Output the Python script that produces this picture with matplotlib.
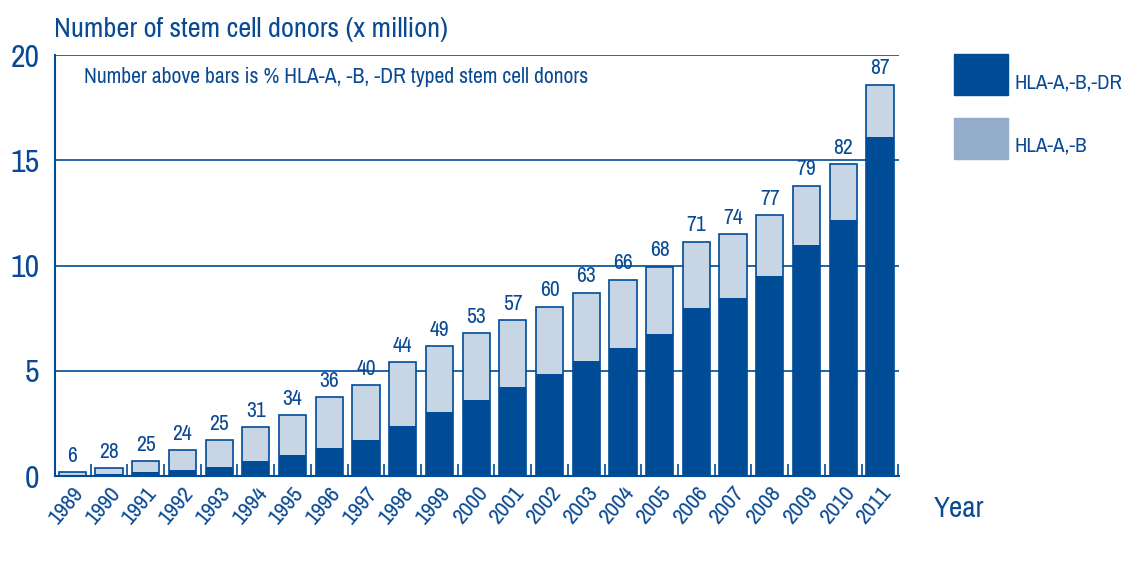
import matplotlib
matplotlib.use('Agg')
import matplotlib.pyplot as plt
from matplotlib.patches import Rectangle

plt.rcParams['font.family'] = ['Archivo Narrow', 'DejaVu Sans']

years = ['1989', '1990', '1991', '1992', '1993', '1994', '1995', '1996', '1997',
         '1998', '1999', '2000', '2001', '2002', '2003', '2004', '2005', '2006',
         '2007', '2008', '2009', '2010', '2011']
# total donors (HLA-A,-B typed at least) in millions
total = [0.18, 0.37, 0.71, 1.24, 1.70, 2.32, 2.89, 3.75, 4.32, 5.41, 6.17, 6.79,
         7.41, 8.05, 8.71, 9.33, 9.95, 11.14, 11.5, 12.41, 13.8, 14.84, 18.6]
# HLA-A,-B,-DR typed donors in millions
dr_typed = [0.02, 0.10, 0.19, 0.29, 0.43, 0.71, 1.0, 1.33, 1.71, 2.38, 3.05, 3.62,
            4.24, 4.86, 5.48, 6.10, 6.76, 8.0, 8.48, 9.52, 11.0, 12.19, 16.1]
pct = [6, 28, 25, 24, 25, 31, 34, 36, 40, 44, 49, 53, 57, 60, 63, 66, 68, 71, 74,
       77, 79, 82, 87]

dark = '#004c97'
light = '#c8d5e5'
light_leg = '#94accb'
txt = '#0a4a94'

fig = plt.figure(figsize=(11.48, 5.63), dpi=100)
ax = fig.add_axes([0.0476, 0.1545, 0.7352, 0.7473])

x = list(range(len(years)))
w = 0.74
ax.bar(x, total, width=w, color=light, edgecolor=dark, linewidth=1.2, zorder=2)
ax.bar(x, dr_typed, width=w, color=dark, edgecolor=dark, linewidth=0, zorder=3)

for i in x:
    ax.text(i, total[i] + 0.3, str(pct[i]), ha='center', va='bottom',
            fontsize=15.5, color=txt, zorder=4)

ax.set_xlim(-0.48, 22.51)
ax.set_ylim(0, 20)
ax.set_yticks([0, 5, 10, 15, 20])
for yv in [5, 10, 15, 20]:
    ax.axhline(yv, color=dark, linewidth=1.2, zorder=1)

for s in ['top', 'right']:
    ax.spines[s].set_visible(False)
for s in ['left', 'bottom']:
    ax.spines[s].set_color(dark)
    ax.spines[s].set_linewidth(1.5)

ax.tick_params(axis='y', length=0, labelsize=23, labelcolor=txt, pad=11)
ax.set_xticks([i + 0.5 for i in x])
ax.set_xticklabels([])
ax.tick_params(axis='x', direction='in', length=9, color=dark, width=1.2)
ax.set_xticks(x, minor=True)
ax.set_xticklabels(years, minor=True, rotation=50, ha='right',
                   rotation_mode='anchor', fontsize=16.5, color=txt)
ax.tick_params(axis='x', which='minor', length=0, pad=5)

ax.text(0.035, 0.948, 'Number above bars is % HLA-A, -B, -DR typed stem cell donors',
        transform=ax.transAxes, fontsize=15.6, color=txt, va='center', ha='left')

fig.text(0.047, 0.947, 'Number of stem cell donors (x million)', fontsize=20.4,
         color=txt, va='center', ha='left')
fig.text(0.813, 0.097, 'Year', fontsize=21, color=txt, va='center', ha='left')

# legend drawn by hand
W, H = 1148.0, 563.0
fig.patches.append(Rectangle((954 / W, 1 - 95 / H), 54 / W, 41 / H,
                             transform=fig.transFigure, color=dark))
fig.patches.append(Rectangle((954 / W, 1 - 159 / H), 54 / W, 41 / H,
                             transform=fig.transFigure, color=light_leg))
fig.text(1014 / W, 1 - 83 / H, 'HLA-A,-B,-DR', fontsize=15, color=txt, va='center')
fig.text(1014 / W, 1 - 146 / H, 'HLA-A,-B', fontsize=15, color=txt, va='center')

fig.savefig('out.png', dpi=100)
